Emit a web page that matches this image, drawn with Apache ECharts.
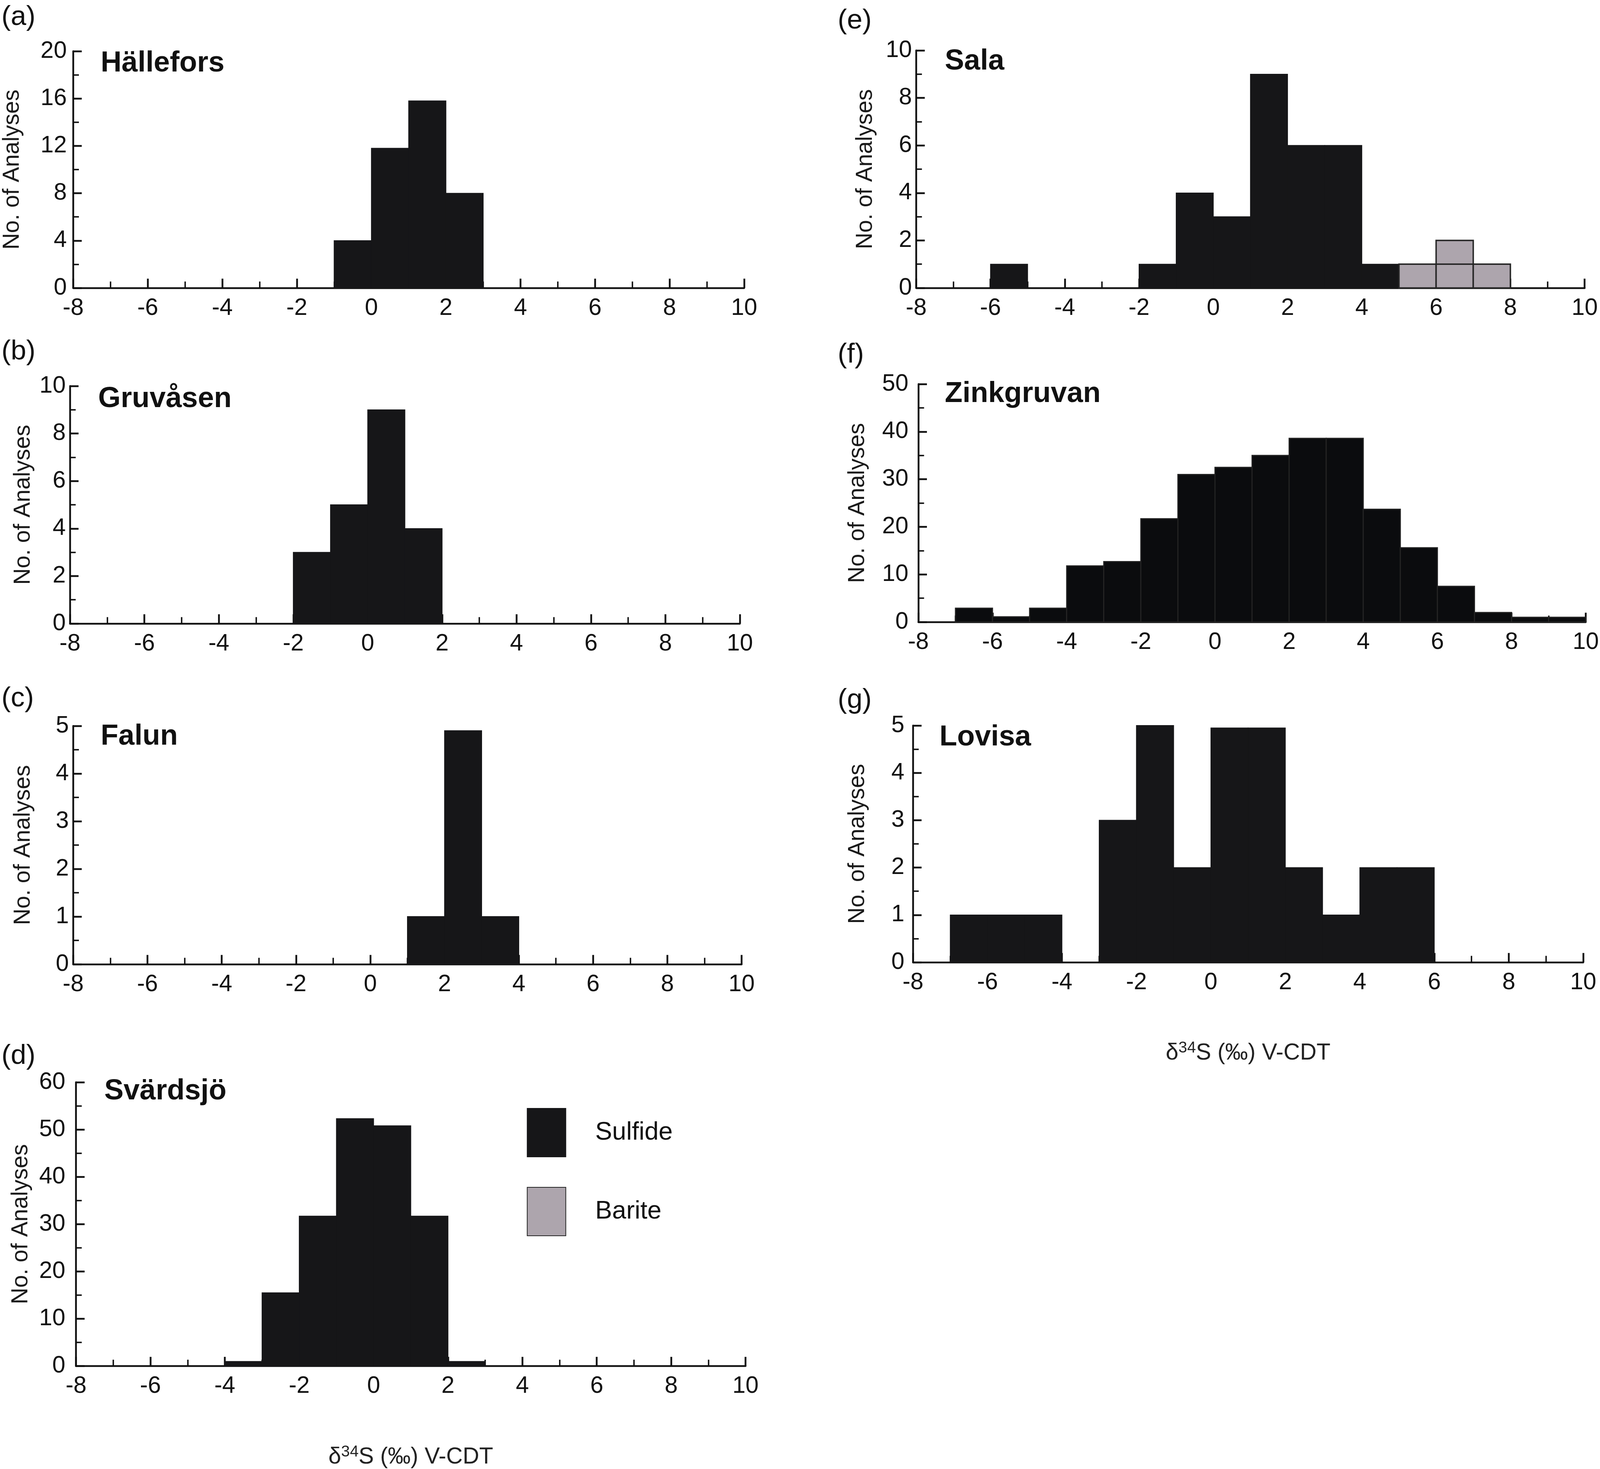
<!DOCTYPE html>
<html><head><meta charset="utf-8">
<script src="https://cdn.jsdelivr.net/npm/echarts@6/dist/echarts.min.js"></script>
<style>html,body{margin:0;padding:0;background:#fff;overflow:hidden}#c{width:100vw;height:100vh}</style>
</head><body><div id="c"></div>
<script>
// Bin left edges (δ34S ‰), each bin 1 ‰ wide, from -8 to 10
const binStarts = [-8,-7,-6,-5,-4,-3,-2,-1,0,1,2,3,4,5,6,7,8,9];
const xTicks = [-8,-6,-4,-2,0,2,4,6,8,10];

const halleforsSulfide  = [0,0,0,0,0,0,0,4,11.8,15.8,8,0,0,0,0,0,0,0];
const gruvasenSulfide   = [0,0,0,0,0,0,3,5,9,4,0,0,0,0,0,0,0,0];
const falunSulfide      = [0,0,0,0,0,0,0,0,0,1,4.9,1,0,0,0,0,0,0];
const svardsjoSulfide   = [0,0,0,0,1,15.5,31.7,52.3,50.8,31.7,1,0,0,0,0,0,0,0];
const salaSulfide       = [0,0,1,0,0,0,1,4,3,9,6,6,1,0,0,0,0,0];
const salaBarite        = [0,0,0,0,0,0,0,0,0,0,0,0,0,1,2,1,0,0];
const zinkgruvanSulfide = [0,2.9,1.1,2.9,11.8,12.7,21.7,31,32.5,35,38.6,38.6,23.7,15.6,7.5,2,1,1];
const lovisaSulfide     = [0,1,1,1,0,3,5,2,4.95,4.95,2,1,2,2,0,0,0,0];

const panelLetters = ['(a)','(b)','(c)','(d)','(e)','(f)','(g)'];
const panelNames = ['Hällefors','Gruvåsen','Falun','Svärdsjö','Sala','Zinkgruvan','Lovisa'];
const yMax = [20,10,5,60,10,50,5];
const yStep = [4,2,1,10,2,10,1];
const yAxisTitle = 'No. of Analyses';
const legendNames = ['Sulfide','Barite'];

const sulfideSets = [halleforsSulfide,gruvasenSulfide,falunSulfide,svardsjoSulfide,salaSulfide,zinkgruvanSulfide,lovisaSulfide];

// layout in reference pixels (4481 x 3760), scaled to the real viewport
const REF_W = 4481, REF_H = 3760;
const vw = window.innerWidth || REF_W, vh = window.innerHeight || REF_H;
const sx = vw / REF_W, sy = vh / REF_H, sf = Math.min(sx, sy);
const X = v => v * sx, Y = v => v * sy, F = v => v * sf;

const gridsRef = [
  {left:205, top:131, width:1879, height:606},
  {left:196, top:988, width:1876, height:608},
  {left:205, top:1858, width:1872, height:610},
  {left:213, top:2770, width:1875, height:732},
  {left:2566, top:129, width:1872, height:608},
  {left:2572, top:983, width:1871, height:609},
  {left:2557, top:1857, width:1877, height:606}
];
const nameGaps = [138, 98, 107, 122, 110, 137, 122];
const yLabelMargins = [18, 12, 12, 30, 12, 28, 24];
const letterPos = [[4,44],[4,900],[4,1788],[4,2703],[2346,53],[2346,908],[2346,1792]];
const titlePos = [[282,163],[275,1022],[282,1886],[292,2794],[2646,158],[2646,1009],[2631,1888]];

const FONT = '"Liberation Sans", Arial, Helvetica, sans-serif';
const SULFIDE = '#161618';
const ZINK = '#0b0c0e';
const BARITE = '#ada5ad';

function toBins(arr){ return binStarts.map((s,i)=>[s, s+1, arr[i]]); }

function renderBar(params, api){
  const x0 = api.value(0), x1 = api.value(1), v = api.value(2);
  if (!v) return;
  const p0 = api.coord([x0, v]);
  const p1 = api.coord([x1, 0]);
  return {type:'rect', shape:{x:p0[0], y:p0[1], width:p1[0]-p0[0], height:p1[1]-p0[1]}, style: api.style()};
}
function renderUnits(params, api){
  const x0 = api.value(0), x1 = api.value(1), v = api.value(2);
  if (!v) return;
  const children = [];
  for (let k = 0; k < v; k++){
    const p0 = api.coord([x0, k+1]);
    const p1 = api.coord([x1, k]);
    children.push({type:'rect', shape:{x:p0[0], y:p0[1], width:p1[0]-p0[0], height:p1[1]-p0[1]}, style: api.style()});
  }
  return {type:'group', children};
}

const xAxis = [], yAxis = [], series = [], graphic = [];
const xName = '{d|δ}{sup|34}{t|S (‰) V-CDT}';
const xNameRich = {
  d:{fontSize:F(64), fontFamily:FONT, color:'#222'},
  t:{fontSize:F(64), fontFamily:FONT, color:'#222'},
  sup:{fontSize:F(44), fontFamily:FONT, color:'#222', verticalAlign:'bottom', padding:[0,0,F(28),0]}
};

gridsRef.forEach((g,i)=>{
  const showXName = (i===3 || i===6);
  xAxis.push({
    type:'value', gridIndex:i, min:-8, max:10, interval:2,
    axisLine:{show:true, onZero:false, lineStyle:{color:'#111', width:F(5)}},
    axisTick:{show:true, inside:true, length:F(26), lineStyle:{color:'#111', width:F(5)}},
    minorTick:{show:true, splitNumber:2, length:F(18), lineStyle:{color:'#111', width:F(4)}},
    splitLine:{show:false},
    axisLabel:{fontSize:F(66), fontFamily:FONT, color:'#111', margin:F(24),
      formatter:v=> xTicks.indexOf(v) >= 0 ? String(v) : ''},
    name: showXName ? xName : '',
    nameLocation:'middle', nameGap: showXName ? Y(200) : 0,
    nameTextStyle:{rich:xNameRich}
  });
  yAxis.push({
    type:'value', gridIndex:i, min:0, max:yMax[i], interval:yStep[i],
    axisLine:{show:true, onZero:false, lineStyle:{color:'#111', width:F(5)}},
    axisTick:{show:true, inside:true, length:F(24), lineStyle:{color:'#111', width:F(5)}},
    minorTick:{show:true, splitNumber:2, length:F(16), lineStyle:{color:'#111', width:F(4)}},
    splitLine:{show:false},
    axisLabel:{fontSize:F(66), fontFamily:FONT, color:'#111', margin:X(yLabelMargins[i])},
    name: yAxisTitle, nameLocation:'middle', nameGap:X(nameGaps[i]), nameRotate:90,
    nameTextStyle:{fontSize:F(64), fontFamily:FONT, color:'#1a1a1a'}
  });
  const isZink = i===5;
  series.push({
    type:'custom', name:legendNames[0], xAxisIndex:i, yAxisIndex:i,
    renderItem:renderBar, data:toBins(sulfideSets[i]),
    encode:{x:[0,1], y:2},
    itemStyle: isZink ? {color:ZINK, borderColor:'#242424', borderWidth:F(3)}
                      : {color:SULFIDE, borderColor:SULFIDE, borderWidth:F(2)},
    z:1
  });
  graphic.push({type:'text', x:X(letterPos[i][0]), y:Y(letterPos[i][1]),
    style:{text:panelLetters[i], fontSize:F(78), fontFamily:FONT, fill:'#111', verticalAlign:'middle'}});
  graphic.push({type:'text', x:X(titlePos[i][0]), y:Y(titlePos[i][1]),
    style:{text:panelNames[i], fontSize:F(81), fontWeight:'bold', fontFamily:FONT, fill:'#111', verticalAlign:'middle'}});
});

series.push({
  type:'custom', name:legendNames[1], xAxisIndex:4, yAxisIndex:4,
  renderItem:renderUnits, data:toBins(salaBarite),
  encode:{x:[0,1], y:2},
  itemStyle:{color:BARITE, borderColor:'#262626', borderWidth:F(4)},
  z:2
});

const chart = echarts.init(document.getElementById('c'), null, {renderer:'canvas'});
chart.setOption({
  backgroundColor:'#fff',
  animation:false,
  grid: gridsRef.map(g=>({left:X(g.left), top:Y(g.top), width:X(g.width), height:Y(g.height), containLabel:false})),
  xAxis, yAxis, series, graphic,
  legend:{
    data:[{name:'Sulfide', icon:'rect'},{name:'Barite', icon:'rect'}],
    orient:'vertical', left:X(1470), top:Y(2831),
    itemWidth:X(108), itemHeight:Y(124), itemGap:Y(76),
    textStyle:{fontSize:F(71), fontFamily:FONT, color:'#111', padding:[0,0,0,X(77)]},
    selectedMode:false
  }
});
</script></body></html>
